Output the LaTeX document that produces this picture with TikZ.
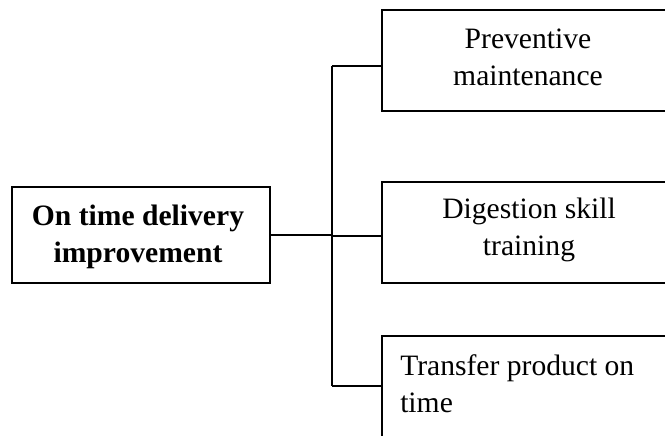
\documentclass[tikz,border=0pt]{standalone}
\usepackage{fontspec}
\setmainfont{Liberation Serif}
\begin{document}
\begin{tikzpicture}[x=0.75pt,y=-0.75pt,
  box/.style={draw=black,line width=1.4pt,inner sep=0pt,fill=none},
  wire/.style={draw=black,line width=1.3pt},
  lbl/.style={inner sep=0pt,font=\fontsize{22.2}{27.5}\selectfont}]
\useasboundingbox (0,0) rectangle (665,436);
% root and the three branches
\node[box,minimum width=193.5pt,minimum height=72pt] (root) at (141,235) {};
\node[box,minimum width=214.5pt,minimum height=75.75pt] (top) at (525,60.5) {};
\node[box,minimum width=214.5pt,minimum height=75.75pt] (mid) at (525,232.5) {};
\node[box,minimum width=214.5pt,minimum height=78pt] (bot) at (525,388) {};
% labels, placed by their last baseline
\node[lbl,align=center,anchor=base] (rootlbl) at (138,262) {\bfseries On time delivery\\\bfseries improvement};
\node[lbl,align=center,anchor=base] (toplbl) at (528,85.5) {Preventive\\maintenance};
\node[lbl,align=center,anchor=base] (midlbl) at (529,255) {Digestion skill\\training};
\node[lbl,align=left,anchor=base west] (botlbl) at (400,412) {Transfer product on\\time};
% connectors
\coordinate (b1) at (332,66);
\coordinate (b2) at (332,236);
\coordinate (b3) at (332,386);
\draw[wire] (root.east) -- (root.east -| b1);
\draw[wire] (b1) -- (b3);
\draw[wire] (b1) -- (b1 -| top.west);
\draw[wire] (b2) -- (b2 -| mid.west);
\draw[wire] (b3) -- (b3 -| bot.west);
\end{tikzpicture}
\end{document}
